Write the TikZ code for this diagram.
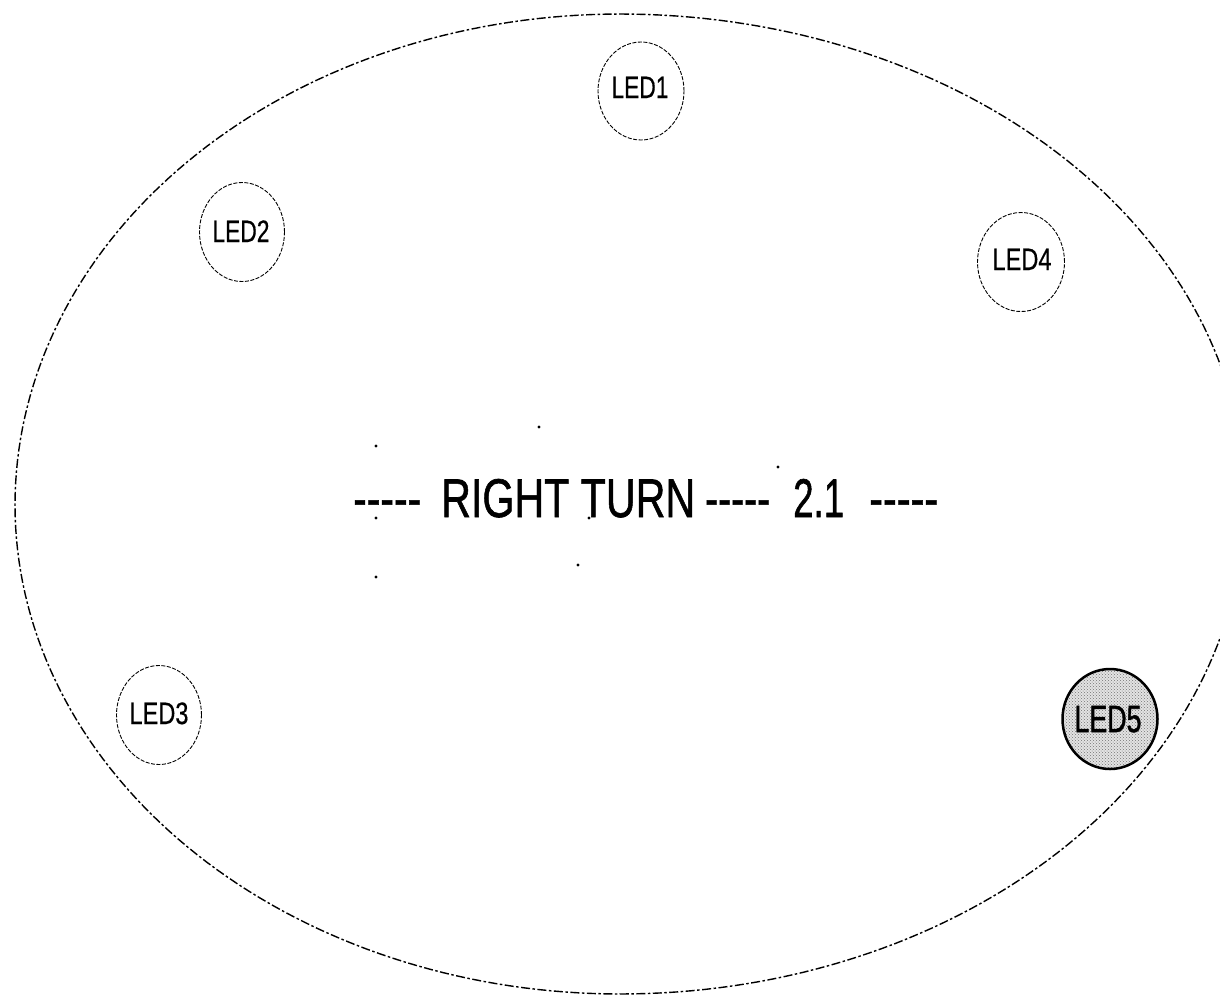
\documentclass[tikz,border=0pt]{standalone}
\usepackage{fontspec}
\usepackage{graphicx}
\setmainfont{Liberation Sans}
\newfontfamily\heavyfont[FakeBold=1.2]{Liberation Sans}
\newfontfamily\ledfont[FakeBold=0.5]{Liberation Sans}
\newfontfamily\ledbold[FakeBold=1.6]{Liberation Sans}
\usetikzlibrary{shapes.geometric,patterns}
\begin{document}
\begin{tikzpicture}[x=1pt,y=-1pt,
  outline/.style={line width=1.4pt, dash pattern=on 9pt off 2.5pt on 2.5pt off 2.5pt},
  ledring/.style={ellipse, draw, line width=0.9pt, dash pattern=on 4pt off 1.5pt, inner sep=0pt, minimum width=86pt, minimum height=98pt},
  ledlabel/.style={font=\ledfont\fontsize{31}{31}\selectfont, inner sep=0pt, anchor=base},
  bigtext/.style={font=\heavyfont\fontsize{54.5}{54.5}\selectfont, inner sep=0pt, anchor=base west},
  speck/.style={fill=black}
]
\useasboundingbox (0,0) rectangle (1220,994);
\fill[white] (0,0) rectangle (1220,994);

% outer outline (egg shape, four elliptic quarters, clipped at the page edge)
\begin{scope}
\clip (0,0) rectangle (1220,994);
\draw[outline]
  plot[domain=-90:0, samples=70] ({620+625*cos(\x)}, {500+486*sin(\x)})
  -- plot[domain=0:90, samples=70] ({620+625*cos(\x)}, {500+494*sin(\x)})
  -- plot[domain=90:180, samples=70] ({620+605*cos(\x)}, {505+489*sin(\x)})
  -- plot[domain=180:270, samples=70] ({620+605*cos(\x)}, {505+491*sin(\x)})
  -- cycle;
\end{scope}

% LED rings
\node[ledring] (led1) at (641,91) {};
\node[ledring, minimum width=85pt, minimum height=99pt] (led2) at (242,232) {};
\node[ledring, minimum width=85pt, minimum height=99pt] (led3) at (159,715) {};
\node[ledring, minimum width=87pt, minimum height=99pt] (led4) at (1021,262) {};
\node[ellipse, draw, line width=2.5pt, inner sep=0pt, minimum width=95pt, minimum height=100pt,
      preaction={fill=gray!22}, pattern=crosshatch dots, pattern color=black!55] (led5) at (1110,719) {};

% LED labels
\node[ledlabel] (t1) at (640,98) {\resizebox{57pt}{\height}{LED1}};
\node[ledlabel] (t2) at (241,242) {\resizebox{57pt}{\height}{LED2}};
\node[ledlabel] (t3) at (159,724) {\resizebox{59pt}{\height}{LED3}};
\node[ledlabel] (t4) at (1022,270) {\resizebox{59pt}{\height}{LED4}};
\node[ledlabel, font=\ledbold\fontsize{38}{38}\selectfont] (t5) at (1108,732) {\resizebox{67pt}{\height}{LED5}};

% central title
\node[bigtext] (d1) at (353,517) {\resizebox{68pt}{\height}{-{}-{}-{}-{}-}};
\node[bigtext] (title) at (441,517) {\resizebox{254pt}{\height}{RIGHT TURN}};
\node[bigtext] (d2) at (705,517) {\resizebox{65pt}{\height}{-{}-{}-{}-{}-}};
\node[bigtext] (num) at (793,517) {\resizebox{51pt}{\height}{2.1}};
\node[bigtext] (d3) at (869,517) {\resizebox{69pt}{\height}{-{}-{}-{}-{}-}};

% stray specks
\fill[speck] (376,446) circle (1.6pt);
\fill[speck] (539,427) circle (1.6pt);
\fill[speck] (778,467) circle (1.6pt);
\fill[speck] (376,518) circle (1.6pt);
\fill[speck] (589,518) circle (1.6pt);
\fill[speck] (578,565) circle (1.6pt);
\fill[speck] (376,577) circle (1.6pt);
\end{tikzpicture}
\end{document}
